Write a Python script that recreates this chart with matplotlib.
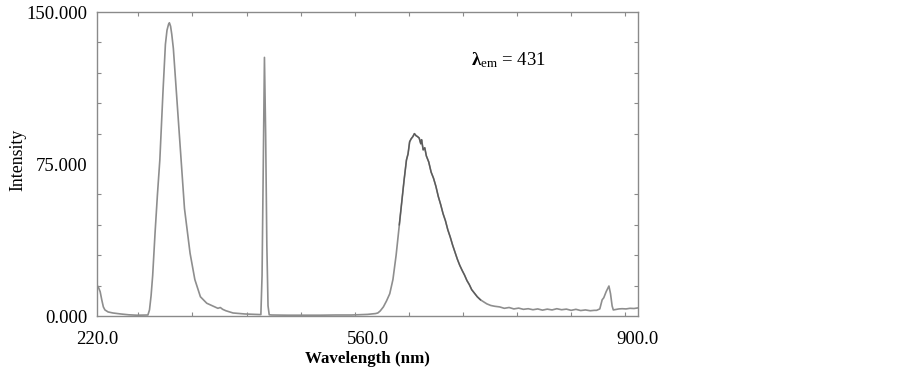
import matplotlib
matplotlib.use("Agg")
import matplotlib.pyplot as plt
import numpy as np
from matplotlib.ticker import FixedLocator, MultipleLocator

plt.rcParams['font.family'] = ['Liberation Serif', 'DejaVu Serif']
plt.rcParams['mathtext.fontset'] = 'custom'
plt.rcParams['mathtext.rm'] = 'Liberation Serif'
plt.rcParams['mathtext.it'] = 'Liberation Serif:italic'
plt.rcParams['mathtext.bf'] = 'Liberation Serif:bold'

# Spectrum (wavelength nm, intensity)
wavelength = [220, 222, 224, 226, 228, 230, 234, 240, 250, 260, 270, 280, 284,
              286, 288, 290, 293, 296, 299, 303, 306, 308, 310, 311, 312.5, 314, 316, 319,
              324, 330, 337, 343, 350, 358, 368, 372, 375, 378, 382, 391, 406,
              424, 426, 427.5, 429, 430.5, 432, 433.5, 435, 436.5, 440, 460,
              480, 500, 520, 540, 560, 565, 570, 573, 576, 580, 584, 588, 592,
              596, 600, 603, 606, 609, 611, 613, 615, 617, 619, 621, 623, 625,
              627, 628, 630, 632, 634, 637, 640, 643, 646, 649, 652, 655, 658,
              661, 664, 667, 670, 673, 676, 679, 682, 685, 688, 691, 694, 698,
              702, 706, 710, 715, 720, 726, 732, 738, 744, 750, 756, 762, 768,
              774, 780, 786, 792, 798, 804, 810, 816, 822, 828, 834, 840, 845,
              848, 852, 855, 857, 860, 863.5, 865.5, 867.5, 869, 872, 876, 880,
              885, 890, 895, 900]
intensity = [15.3, 14.0, 12.0, 8.0, 4.5, 3.0, 2.0, 1.5, 1.0, 0.6, 0.4, 0.5, 0.5,
             3.0, 10.0, 20.0, 41.0, 60.0, 77.0, 111.0, 134.0, 141.0, 144.0, 144.7, 143.0, 139.0, 132.0, 115.0,
             87.0, 53.0, 31.0, 18.0, 9.5, 6.3, 4.5, 3.8, 4.2, 3.3, 2.6, 1.5, 1.0,
             0.7, 0.7, 20.0, 75.0, 127.6, 90.0, 35.0, 5.0, 0.6, 0.5, 0.4,
             0.4, 0.4, 0.5, 0.5, 0.8, 1.0, 1.2, 1.5, 2.5, 4.5, 7.5, 11.0, 18.0,
             30.0, 45.0, 56.0, 67.0, 77.0, 80.0, 86.0, 87.5, 88.5, 90.0, 89.0, 88.5, 87.8,
             85.0, 87.0, 82.0, 83.0, 79.0, 76.0, 71.0, 68.0, 64.0, 59.0, 55.0, 50.5, 47.0,
             42.5, 39.0, 35.0, 31.5, 28.0, 25.0, 22.5, 20.2, 17.5, 15.5, 13.0, 11.5, 9.5,
             8.0, 7.0, 6.0, 5.2, 4.8, 4.5, 3.8, 4.2, 3.5, 3.9, 3.3, 3.6, 3.1,
             3.5, 2.9, 3.4, 3.0, 3.6, 3.1, 3.4, 2.8, 3.3, 2.7, 3.0, 2.6, 2.8,
             2.8, 3.5, 8.0, 9.0, 12.0, 14.8, 11.0, 5.0, 3.0, 3.2, 3.5, 3.6,
             3.5, 3.8, 3.7, 4.0]

x_major = [220.0, 560.0, 900.0]
y_major = [0.0, 75.0, 150.0]

wl = np.array(wavelength)
it = np.array(intensity)

fig = plt.figure(figsize=(9.03, 3.72), dpi=100)
ax = fig.add_axes([0.1074, 0.1505, 0.5991, 0.8172])

ax.plot(wl, it, color='#8e8e8e', lw=1.2)
m = (wl >= 598) & (wl <= 705)
ax.plot(wl[m], it[m], color='#5a5a5a', lw=1.0)

ax.set_xlim(220, 900)
ax.set_ylim(0, 150)
ax.xaxis.set_major_locator(FixedLocator(x_major))
ax.xaxis.set_minor_locator(MultipleLocator(68))
ax.yaxis.set_major_locator(FixedLocator(y_major))
ax.yaxis.set_minor_locator(MultipleLocator(15))
ax.set_xticklabels([f"{v:.1f}" for v in x_major])
ax.set_yticklabels([f"{v:.3f}" for v in y_major])

ax.tick_params(axis='both', which='both', direction='in', top=True, right=True,
               color='#8a8a8a', labelsize=13.5, width=0.8)
ax.tick_params(axis='both', which='major', length=0)
ax.tick_params(axis='both', which='minor', length=3)
ax.tick_params(axis='x', which='major', pad=10.5)
ax.tick_params(axis='y', which='major', pad=7)
for s in ax.spines.values():
    s.set_color('#8a8a8a')
    s.set_linewidth(1.0)

ax.set_xlabel('Wavelength (nm)', fontsize=12.2, fontweight='bold', va='center')
ax.xaxis.set_label_coords(0.5, -0.143)
ax.set_ylabel('Intensity', fontsize=12.8, va='center')
ax.yaxis.set_label_coords(-0.146, 0.513)

ax.text(0.692, 0.843, r'$\mathbf{\lambda}_{\mathrm{em}}$ = 431', transform=ax.transAxes,
        fontsize=13.5, ha='left', va='center')

fig.savefig('out.png', dpi=100)
